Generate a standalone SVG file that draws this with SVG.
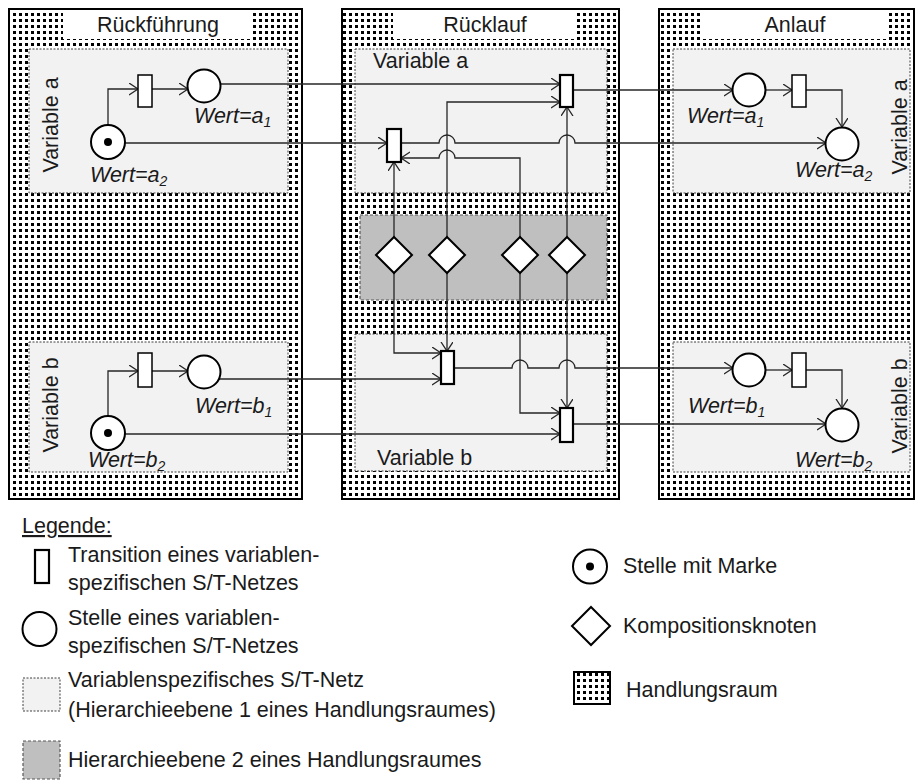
<svg xmlns="http://www.w3.org/2000/svg" width="917" height="781" viewBox="0 0 917 781">
<style>
text{font-family:"Liberation Sans",Arial,sans-serif;font-size:21.5px;fill:#1a1a1a}
.w{font-style:italic}
.sub{font-size:14px}
.panel{fill:url(#dots);stroke:#000;stroke-width:2}
.title{fill:#fff}
.net{fill:#f2f2f2;stroke:#404040;stroke-width:1;stroke-dasharray:2 1.5}
.lvl2{fill:#bfbfbf;stroke:#595959;stroke-width:1.2;stroke-dasharray:3 2}
.place{fill:#fff;stroke:#000;stroke-width:2}
.tok{fill:#000}
.tr{fill:#fff;stroke:#000;stroke-width:1.5}
.trb{fill:#fff;stroke:#000;stroke-width:2.2}
.dia{fill:#fff;stroke:#000;stroke-width:2}
.c{fill:none;stroke:#262626;stroke-width:1.3}
.ca{fill:none;stroke:#262626;stroke-width:1.3;marker-end:url(#arr)}
</style>
<defs>
<pattern id="dots" width="6" height="6" patternUnits="userSpaceOnUse">
<rect width="6" height="6" fill="#fff"/>
<rect x="1" y="1" width="3" height="3" fill="#000"/>
</pattern>
<marker id="arr" markerWidth="11" markerHeight="13" refX="9" refY="6" orient="auto" markerUnits="userSpaceOnUse">
<path d="M0,0 L9,6 L0,12" fill="none" stroke="#262626" stroke-width="1.3"/>
</marker>
</defs>

<!-- Handlungsräume -->
<g id="hr-rueckfuehrung">
<rect class="panel" x="9" y="9" width="293" height="490"/>
<rect class="title" x="63" y="10" width="187" height="29"/>
<text x="158" y="32" text-anchor="middle">Rückführung</text>
</g>
<g id="hr-ruecklauf">
<rect class="panel" x="342" y="9" width="277" height="490"/>
<rect class="title" x="393" y="10" width="184" height="29"/>
<text x="485" y="32" text-anchor="middle">Rücklauf</text>
</g>
<g id="hr-anlauf">
<rect class="panel" x="659" y="9" width="255" height="490"/>
<rect class="title" x="703" y="10" width="184" height="29"/>
<text x="795" y="32" text-anchor="middle">Anlauf</text>
</g>

<!-- S/T-Netze -->
<g id="net-rf-a">
<rect class="net" x="29" y="49" width="259" height="144"/>
<text x="58" y="125" text-anchor="middle" transform="rotate(-90 58 125)">Variable a</text>
</g>
<g id="net-rf-b">
<rect class="net" x="29" y="342" width="259" height="130"/>
<text x="58" y="405" text-anchor="middle" transform="rotate(-90 58 405)">Variable b</text>
</g>
<g id="net-rl-a">
<rect class="net" x="355" y="49" width="252" height="144"/>
<text x="373" y="68">Variable a</text>
</g>
<g id="net-rl-b">
<rect class="net" x="355" y="334" width="252" height="137"/>
<text x="377" y="465">Variable b</text>
</g>
<g id="ebene2-rl">
<rect class="lvl2" x="360" y="215" width="247" height="85"/>
</g>
<g id="net-al-a">
<rect class="net" x="673" y="49" width="237" height="144"/>
<text x="907" y="127" text-anchor="middle" transform="rotate(-90 907 127)">Variable a</text>
</g>
<g id="net-al-b">
<rect class="net" x="673" y="342" width="237" height="130"/>
<text x="907" y="406" text-anchor="middle" transform="rotate(-90 907 406)">Variable b</text>
</g>

<!-- connectors -->
<g id="connectors">
<path class="ca" d="M108,125 V89 H138"/>
<path class="ca" d="M152,89 H188"/>
<path class="ca" d="M220,84 H560"/>
<path class="ca" d="M125,143 H387"/>
<path class="ca" d="M108,416 V371 H138"/>
<path class="ca" d="M152,371 H188"/>
<path class="ca" d="M219,379 H441"/>
<path class="ca" d="M125,434 H560"/>
<path class="ca" d="M447,237 V102 H560"/>
<path class="ca" d="M567,237 V107"/>
<path class="ca" d="M394,237 V162"/>
<path class="ca" d="M520,237 V158 H455 A8,8 0 0 0 439,158 H401"/>
<path class="ca" d="M401,143 H439 A8,8 0 0 1 455,143 H559 A8,8 0 0 1 575,143 H826"/>
<path class="ca" d="M573,90 H733"/>
<path class="ca" d="M394,273 V353 H441"/>
<path class="ca" d="M447,273 V351"/>
<path class="ca" d="M520,273 V413 H560"/>
<path class="ca" d="M567,273 V408"/>
<path class="ca" d="M454,368 H512 A8,8 0 0 1 528,368 H559 A8,8 0 0 1 575,368 H733"/>
<path class="ca" d="M573,424 H826"/>
<path class="ca" d="M765,90 H792"/>
<path class="ca" d="M806,90 H842 V127"/>
<path class="ca" d="M765,370 H792"/>
<path class="ca" d="M806,370 H842 V408"/>
</g>

<!-- Rückführung nodes -->
<g id="rf-t-a"><rect class="tr" x="138" y="75" width="14" height="32"/></g>
<g id="rf-p-a1"><circle class="place" cx="204" cy="86" r="16.5"/><text class="w" x="194" y="123">Wert=a<tspan class="sub" dy="4">1</tspan></text></g>
<g id="rf-p-a2"><circle class="place" cx="108" cy="142" r="17"/><circle class="tok" cx="108" cy="142" r="4"/><text class="w" x="90" y="182">Wert=a<tspan class="sub" dy="4">2</tspan></text></g>
<g id="rf-t-b"><rect class="tr" x="138" y="353" width="14" height="34"/></g>
<g id="rf-p-b1"><circle class="place" cx="204" cy="372" r="16.5"/><text class="w" x="195" y="413">Wert=b<tspan class="sub" dy="4">1</tspan></text></g>
<g id="rf-p-b2"><circle class="place" cx="108" cy="433" r="17"/><circle class="tok" cx="108" cy="433" r="4"/><text class="w" x="88" y="467">Wert=b<tspan class="sub" dy="4">2</tspan></text></g>

<!-- Rücklauf nodes -->
<g id="rl-t-a1"><rect class="trb" x="560" y="75" width="13" height="32"/></g>
<g id="rl-t-a2"><rect class="trb" x="387" y="129" width="14" height="33"/></g>
<g id="rl-t-b1"><rect class="trb" x="441" y="351" width="13" height="33"/></g>
<g id="rl-t-b2"><rect class="trb" x="560" y="408" width="13" height="34"/></g>
<g id="rl-k1"><path class="dia" d="M394,237 L412,255 L394,273 L376,255 Z"/></g>
<g id="rl-k2"><path class="dia" d="M447,237 L465,255 L447,273 L429,255 Z"/></g>
<g id="rl-k3"><path class="dia" d="M520,237 L538,255 L520,273 L502,255 Z"/></g>
<g id="rl-k4"><path class="dia" d="M567,237 L585,255 L567,273 L549,255 Z"/></g>

<!-- Anlauf nodes -->
<g id="al-p-a1"><circle class="place" cx="749" cy="90" r="16.5"/><text class="w" x="687" y="123">Wert=a<tspan class="sub" dy="4">1</tspan></text></g>
<g id="al-t-a"><rect class="tr" x="792" y="75" width="14" height="32"/></g>
<g id="al-p-a2"><circle class="place" cx="842" cy="144" r="16.5"/><text class="w" x="795" y="177">Wert=a<tspan class="sub" dy="4">2</tspan></text></g>
<g id="al-p-b1"><circle class="place" cx="749" cy="370" r="16.5"/><text class="w" x="688" y="413">Wert=b<tspan class="sub" dy="4">1</tspan></text></g>
<g id="al-t-b"><rect class="tr" x="792" y="353" width="14" height="34"/></g>
<g id="al-p-b2"><circle class="place" cx="842" cy="425" r="16.5"/><text class="w" x="795" y="467">Wert=b<tspan class="sub" dy="4">2</tspan></text></g>

<!-- Legende -->
<g id="legende">
<text x="22" y="533" text-decoration="underline">Legende:</text>
<rect class="trb" x="35" y="550" width="14" height="33"/>
<text x="68" y="562">Transition eines variablen-</text>
<text x="68" y="590">spezifischen S/T-Netzes</text>
<circle class="place" cx="39.5" cy="629" r="17"/>
<text x="68" y="625">Stelle eines variablen-</text>
<text x="68" y="653">spezifischen S/T-Netzes</text>
<rect class="net" x="23" y="678" width="37" height="33"/>
<text x="68" y="687">Variablenspezifisches S/T-Netz</text>
<text x="68" y="717">(Hierarchieebene 1 eines Handlungsraumes)</text>
<rect class="lvl2" x="23" y="741" width="37" height="38"/>
<text x="68" y="767">Hierarchieebene 2 eines Handlungsraumes</text>
<circle class="place" cx="590" cy="566.5" r="17"/>
<circle class="tok" cx="590" cy="566.5" r="4"/>
<text x="623" y="573">Stelle mit Marke</text>
<path class="dia" d="M591,607 L610,626 L591,645 L572,626 Z"/>
<text x="623" y="633">Kompositionsknoten</text>
<rect class="panel" x="574" y="672" width="36" height="32"/>
<text x="626" y="697">Handlungsraum</text>
</g>
</svg>
